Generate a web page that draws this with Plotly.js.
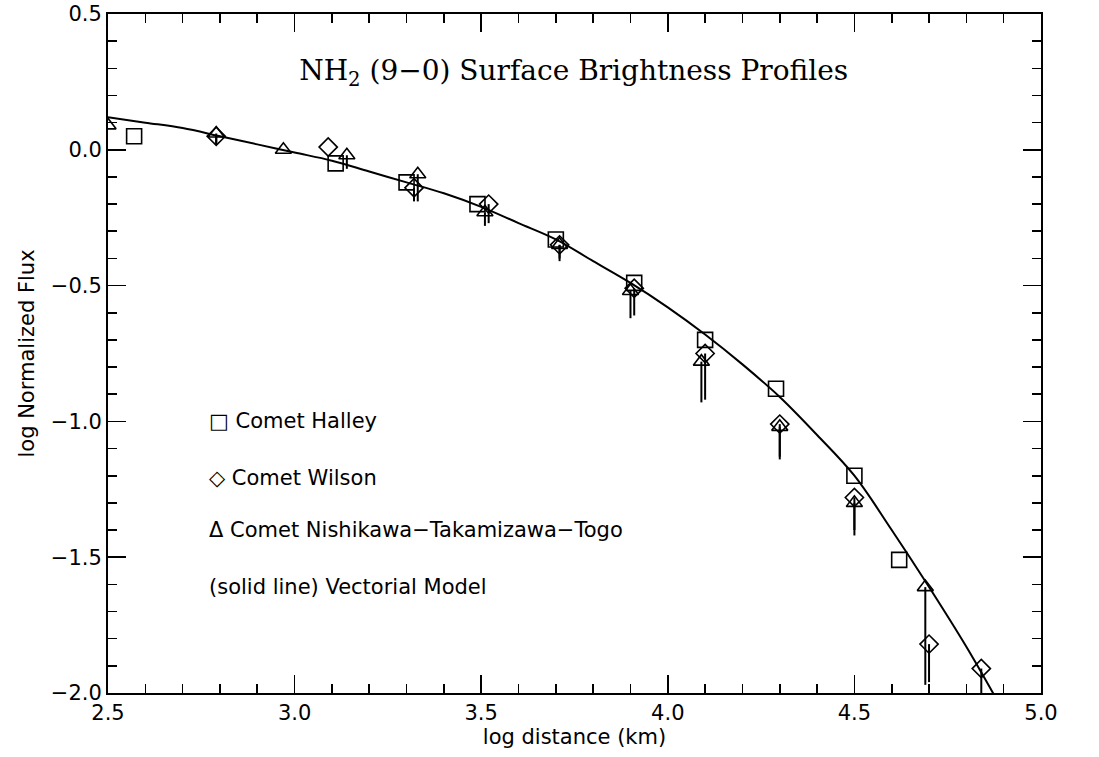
<!DOCTYPE html>
<html>
<head>
<meta charset="utf-8">
<script src="https://cdn.plot.ly/plotly-3.0.1.min.js"></script>
<style>html,body{margin:0;padding:0;background:#fff;}#chart{width:1099px;height:757px;}</style>
</head>
<body>
<div id="chart"></div>
<script>
// Comet Halley (squares)
const halleyX = [2.57, 3.11, 3.30, 3.49, 3.70, 3.91, 4.10, 4.29, 4.50, 4.62];
const halleyY = [0.05, -0.05, -0.12, -0.20, -0.33, -0.49, -0.70, -0.88, -1.20, -1.51];

// Comet Wilson (diamonds)
const wilsonX = [2.79, 3.09, 3.32, 3.52, 3.71, 3.91, 4.10, 4.30, 4.50, 4.70, 4.84];
const wilsonY = [0.05, 0.01, -0.14, -0.20, -0.35, -0.51, -0.75, -1.01, -1.28, -1.82, -1.91];
const wilsonLow = [0.03, 0, 0.05, 0.07, 0.05, 0.10, 0.17, 0.12, 0.12, 0.14, 0.10];

// Comet Nishikawa-Takamizawa-Togo (triangles)
const nttX = [2.50, 2.79, 2.97, 3.14, 3.33, 3.51, 3.71, 3.90, 4.09, 4.30, 4.50, 4.69];
const nttY = [0.09, 0.06, 0.00, -0.02, -0.09, -0.23, -0.35, -0.52, -0.78, -1.02, -1.30, -1.61];
const nttLow = [0, 0.04, 0, 0.05, 0.10, 0.05, 0.06, 0.10, 0.15, 0.12, 0.12, 0.36];

// Vectorial model (solid line)
const modelX = [2.5, 2.6, 2.7, 2.8, 2.9, 3.0, 3.1, 3.2, 3.3, 3.4, 3.5, 3.6, 3.7, 3.8, 3.9, 4.0, 4.1, 4.2, 4.3, 4.4, 4.5, 4.6, 4.7, 4.8, 4.9];
const modelY = [0.12, 0.10, 0.08, 0.05, 0.02, -0.01, -0.04, -0.08, -0.12, -0.16, -0.21, -0.27, -0.33, -0.41, -0.49, -0.58, -0.68, -0.79, -0.91, -1.05, -1.20, -1.40, -1.61, -1.83, -2.07];

// Legend labels
const legendLabels = ["\u25A1 Comet Halley", "\u25C7 Comet Wilson", "\u0394 Comet Nishikawa\u2212Takamizawa\u2212Togo", "(solid line) Vectorial Model"];
const legendY = [-1.00, -1.21, -1.40, -1.61];

const zeros = a => a.map(() => 0);

const traces = [
  {x: modelX, y: modelY, mode: 'lines', line: {color: '#000', width: 2, shape: 'spline'}, hoverinfo: 'skip'},
  {x: halleyX, y: halleyY, mode: 'markers',
   marker: {symbol: 'square-open', size: 15, color: '#000', line: {width: 1.6, color: '#000'}}},
  {x: wilsonX, y: wilsonY, mode: 'markers',
   marker: {symbol: 'diamond-open', size: 14, color: '#000', line: {width: 1.6, color: '#000'}},
   error_y: {type: 'data', symmetric: false, array: zeros(wilsonX), arrayminus: wilsonLow, width: 0, thickness: 2, color: '#000'}},
  {x: nttX, y: nttY, mode: 'markers',
   marker: {symbol: 'triangle-up-open', size: 14, color: '#000', line: {width: 1.6, color: '#000'}},
   error_y: {type: 'data', symmetric: false, array: zeros(nttX), arrayminus: nttLow, width: 0, thickness: 2, color: '#000'}}
];

const sans = 'DejaVu Sans, sans-serif';

const annotations = legendLabels.map((t, i) => ({
  text: t, x: 2.765, y: legendY[i], xref: 'x', yref: 'y', xanchor: 'left', yanchor: 'middle',
  showarrow: false, font: {family: sans, size: 21, color: '#000'}
}));

const axisCommon = {
  showline: true, linewidth: 2, linecolor: '#000', mirror: 'allticks',
  ticks: 'inside', ticklen: 18, tickwidth: 1.6, tickcolor: '#000',
  showgrid: false, zeroline: false,
  tickfont: {family: sans, size: 21, color: '#000'},
  minor: {dtick: 0.1, ticks: 'inside', ticklen: 9, tickwidth: 1.6, tickcolor: '#000', showgrid: false}
};

const layout = {
  width: 1099, height: 757,
  margin: {l: 108, r: 58, t: 14, b: 64},
  paper_bgcolor: '#fff', plot_bgcolor: '#fff',
  showlegend: false,
  title: {text: 'NH<sub>2</sub> (9\u22120) Surface Brightness Profiles',
          font: {family: 'DejaVu Serif, serif', size: 28, color: '#000'},
          x: 0.522, xref: 'container', xanchor: 'center', y: 0.907, yref: 'container', yanchor: 'middle'},
  xaxis: Object.assign({}, axisCommon, {range: [2.5, 5.0], dtick: 0.5, tick0: 2.5, tickformat: '.1f',
    title: {text: 'log distance (km)', font: {family: sans, size: 21, color: '#000'}, standoff: 4}}),
  yaxis: Object.assign({}, axisCommon, {range: [-2.0, 0.5], dtick: 0.5, tick0: 0, tickformat: '.1f',
    title: {text: 'log Normalized Flux', font: {family: sans, size: 21, color: '#000'}, standoff: 10}}),
  annotations: annotations
};

Plotly.newPlot('chart', traces, layout, {displayModeBar: false, staticPlot: true});
</script>
</body>
</html>
